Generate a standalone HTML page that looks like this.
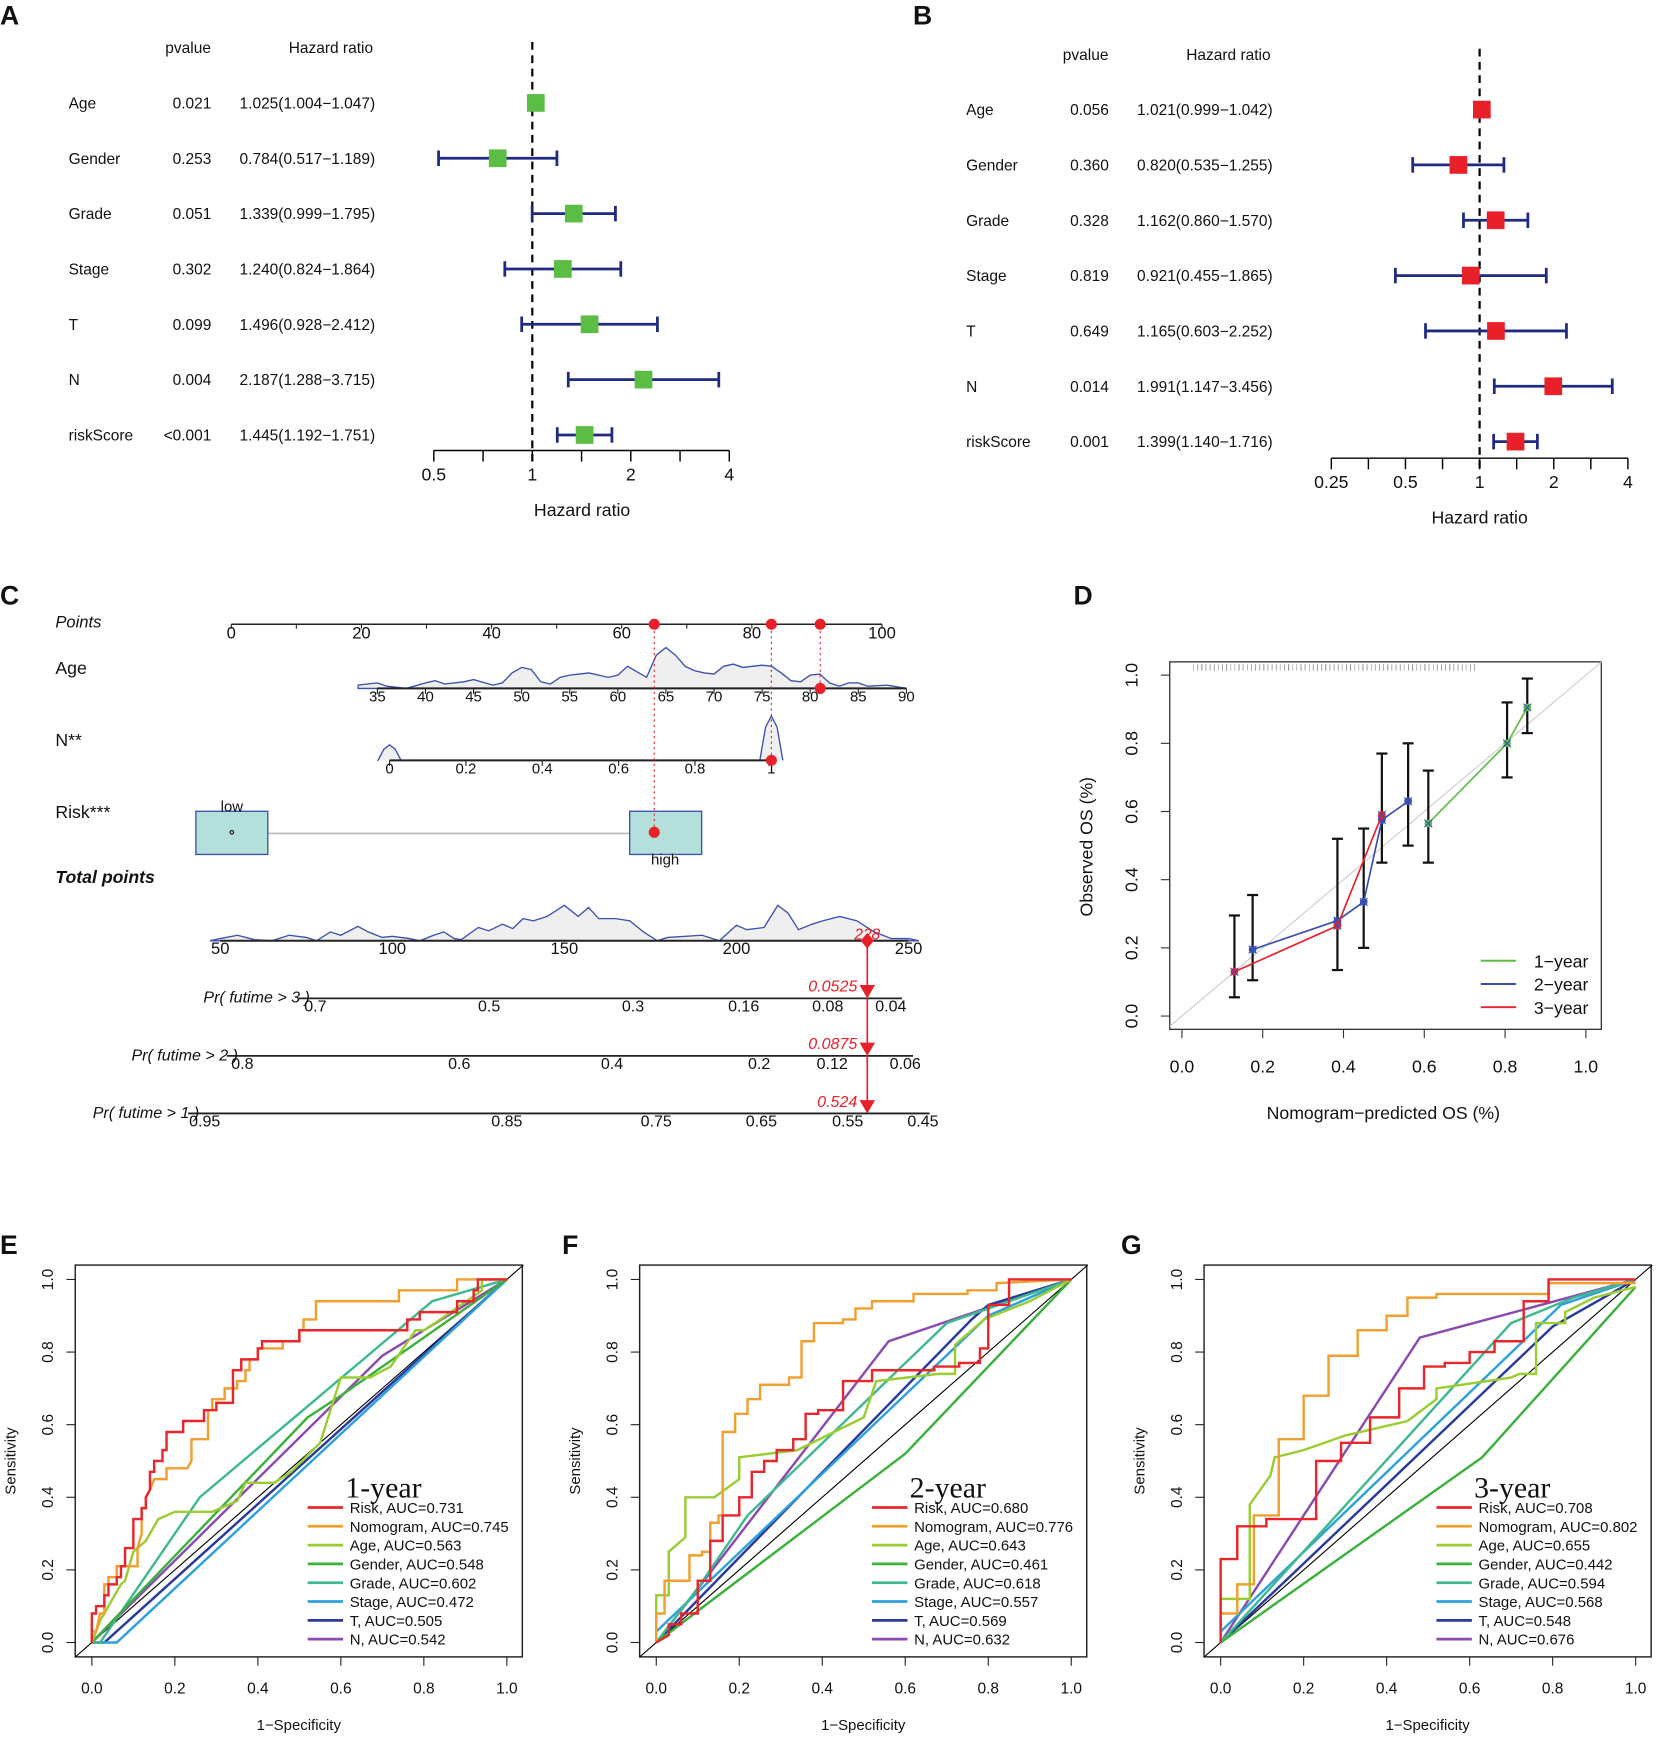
<!DOCTYPE html>
<html><head><meta charset="utf-8"><style>
html,body{margin:0;padding:0;background:#fff;}
svg{display:block;font-family:"Liberation Sans",Arial,sans-serif;}
</style></head><body>
<svg id="fig" width="1660" height="1741" viewBox="0 0 1500 1573" preserveAspectRatio="none" xmlns="http://www.w3.org/2000/svg"></svg>
<script>
// ---------- DATA ----------
const forestNames = ["Age","Gender","Grade","Stage","T","N","riskScore"];
const forestAP = ["0.021","0.253","0.051","0.302","0.099","0.004","<0.001"];
const forestAHR = [1.025,0.784,1.339,1.240,1.496,2.187,1.445];
const forestALo = [1.004,0.517,0.999,0.824,0.928,1.288,1.192];
const forestAHi = [1.047,1.189,1.795,1.864,2.412,3.715,1.751];
const forestATicks = [0.5,1,2,4];
const forestBP = ["0.056","0.360","0.328","0.819","0.649","0.014","0.001"];
const forestBHR = [1.021,0.820,1.162,0.921,1.165,1.991,1.399];
const forestBLo = [0.999,0.535,0.860,0.455,0.603,1.147,1.140];
const forestBHi = [1.042,1.255,1.570,1.865,2.252,3.456,1.716];
const forestBTicks = [0.25,0.5,1,2,4];

const pointsTicks = [0,20,40,60,80,100];
const pointsDots = [65,83,90.5];
const ageTicks = [35,40,45,50,55,60,65,70,75,80,85,90];
const ageDensAge = [33,35,36,38,40,41,42,44,45,47,48,49,50,51,52,53,54,55,56,57,58,59,60,61,62,63,64,65,66,67,68,69,70,71,72,73,74,75,76,77,78,79,80,81,82,83,84,85,86,88,90];
const ageDensH = [3,5,2,0,5,7,4,6,8,3,5,14,19,17,6,4,10,12,13,14,12,10,12,20,15,10,30,37,30,20,16,14,13,20,22,19,20,21,20,14,7,6,12,13,5,2,5,5,2,3,0];
const nTicks = [0,0.2,0.4,0.6,0.8,1];
const nDensX = [-0.03,-0.015,0,0.015,0.03,0.97,0.985,1,1.015,1.03];
const nDensH = [0,10,14,10,0,0,30,40,30,0];
const totalTicks = [50,100,150,200,250];
const totalDensX = [47,50,55,60,65,70,75,78,82,85,90,93,97,100,105,108,112,115,118,120,125,128,132,135,138,141,145,150,154,157,160,165,169,173,177,180,190,195,200,203,208,212,215,218,222,225,230,235,240,245,250,253];
const totalDensH = [0,2,5,1,0,5,3,0,8,5,13,8,3,4,2,0,5,8,2,1,12,9,15,11,20,18,22,32,22,30,20,20,18,8,0,3,5,0,14,10,12,32,25,10,15,18,22,18,8,2,2,0];
const totalScore = "228";
const totalMarkPos = 238;
const pr3Labels = ["0.7","0.5","0.3","0.16","0.08","0.04"];
const pr3Pos = [285,442,572,672,748,805];
const pr2Labels = ["0.8","0.6","0.4","0.2","0.12","0.06"];
const pr2Pos = [219,415,553,686,752,818];
const pr1Labels = ["0.95","0.85","0.75","0.65","0.55","0.45"];
const pr1Pos = [185,458,593,688,766,834];
const prValues = ["0.0525","0.0875","0.524"];

const calTicks = [0,0.2,0.4,0.6,0.8,1.0];
const cal1X = [0.61,0.805,0.855], cal1Y = [0.565,0.80,0.905];
const cal2X = [0.175,0.385,0.45,0.495,0.56], cal2Y = [0.195,0.28,0.335,0.575,0.63];
const cal3X = [0.13,0.385,0.495], cal3Y = [0.13,0.265,0.59];
const errX = [0.13,0.175,0.385,0.45,0.495,0.56,0.61,0.805,0.855];
const errLo = [0.055,0.105,0.135,0.20,0.45,0.50,0.45,0.70,0.83];
const errHi = [0.295,0.355,0.52,0.55,0.77,0.80,0.72,0.92,0.99];

const rocNames = ["Risk","Nomogram","Age","Gender","Grade","Stage","T","N"];
const rocAUC1 = ["0.731","0.745","0.563","0.548","0.602","0.472","0.505","0.542"];
const rocAUC2 = ["0.680","0.776","0.643","0.461","0.618","0.557","0.569","0.632"];
const rocAUC3 = ["0.708","0.802","0.655","0.442","0.594","0.568","0.548","0.676"];
const rocTicks = [0,0.2,0.4,0.6,0.8,1.0];
const roc1 = [
 [0,0,0,0.08,0.01,0.08,0.01,0.1,0.03,0.1,0.03,0.13,0.04,0.13,0.04,0.16,0.06,0.16,0.06,0.18,0.07,0.18,0.07,0.21,0.08,0.21,0.08,0.26,0.1,0.26,0.1,0.34,0.12,0.34,0.12,0.37,0.13,0.37,0.13,0.4,0.14,0.42,0.14,0.47,0.15,0.47,0.15,0.5,0.17,0.5,0.17,0.53,0.18,0.53,0.18,0.58,0.22,0.58,0.22,0.61,0.27,0.61,0.27,0.64,0.3,0.64,0.3,0.66,0.34,0.66,0.34,0.75,0.36,0.75,0.36,0.78,0.4,0.78,0.4,0.81,0.41,0.81,0.41,0.83,0.5,0.83,0.5,0.86,0.76,0.86,0.76,0.89,0.79,0.89,0.79,0.91,0.88,0.91,0.88,0.94,0.92,0.94,0.92,0.97,0.93,0.97,0.93,1,1,1],
 [0,0,0,0.03,0.01,0.03,0.02,0.08,0.03,0.08,0.03,0.16,0.04,0.16,0.04,0.18,0.06,0.18,0.06,0.21,0.11,0.21,0.11,0.26,0.12,0.3,0.12,0.37,0.13,0.37,0.13,0.4,0.14,0.42,0.15,0.45,0.18,0.45,0.18,0.48,0.23,0.48,0.24,0.5,0.24,0.56,0.28,0.56,0.28,0.64,0.29,0.64,0.29,0.67,0.32,0.67,0.32,0.7,0.35,0.7,0.35,0.72,0.37,0.72,0.37,0.75,0.38,0.75,0.38,0.78,0.4,0.78,0.4,0.81,0.46,0.81,0.46,0.83,0.5,0.83,0.5,0.86,0.51,0.86,0.51,0.89,0.54,0.89,0.54,0.94,0.74,0.94,0.74,0.97,0.88,0.97,0.88,1,1,1],
 [0,0,0.02,0.06,0.04,0.1,0.07,0.16,0.08,0.17,0.1,0.25,0.13,0.28,0.16,0.34,0.2,0.36,0.29,0.36,0.35,0.39,0.37,0.44,0.44,0.44,0.48,0.47,0.55,0.55,0.6,0.73,0.67,0.73,0.72,0.76,0.75,0.81,0.78,0.86,0.8,0.86,0.84,0.89,0.94,0.97,0.94,1,1,1],
 [0,0,0.52,0.62,0.6,0.68,1,1],
 [0,0,0.02,0,0.26,0.4,0.82,0.94,1,1],
 [0,0,0.06,0,1,1],
 [0,0,0.03,0,1,1],
 [0,0,0.7,0.79,1,1]];
const roc2 = [
 [0,0,0.03,0.02,0.03,0.05,0.06,0.05,0.06,0.08,0.1,0.08,0.1,0.17,0.13,0.17,0.13,0.28,0.16,0.28,0.16,0.35,0.2,0.35,0.2,0.4,0.23,0.4,0.23,0.47,0.26,0.47,0.26,0.5,0.29,0.5,0.29,0.53,0.33,0.53,0.33,0.56,0.36,0.56,0.36,0.63,0.39,0.63,0.39,0.64,0.45,0.64,0.45,0.72,0.52,0.72,0.52,0.75,0.67,0.75,0.67,0.76,0.73,0.76,0.73,0.77,0.78,0.77,0.78,0.81,0.8,0.81,0.8,0.93,0.85,0.93,0.85,1,1,1],
 [0,0,0,0.08,0.02,0.08,0.02,0.17,0.08,0.17,0.08,0.24,0.11,0.24,0.11,0.25,0.13,0.25,0.13,0.33,0.15,0.33,0.15,0.35,0.16,0.35,0.16,0.58,0.19,0.58,0.19,0.63,0.22,0.63,0.22,0.67,0.25,0.67,0.25,0.71,0.32,0.71,0.32,0.73,0.35,0.73,0.35,0.83,0.38,0.83,0.38,0.88,0.45,0.88,0.45,0.89,0.48,0.89,0.48,0.92,0.52,0.92,0.52,0.94,0.62,0.94,0.62,0.96,0.75,0.96,0.75,0.97,0.82,0.97,0.82,0.99,1,1],
 [0,0,0,0.13,0.03,0.13,0.03,0.25,0.07,0.29,0.07,0.4,0.14,0.4,0.2,0.45,0.2,0.51,0.34,0.53,0.5,0.62,0.53,0.72,0.68,0.74,0.72,0.74,0.72,0.82,0.79,0.89,0.9,0.94,1,1],
 [0,0,0.6,0.52,1,1],
 [0,0,0.1,0.15,0.22,0.35,0.7,0.88,1,1],
 [0,0.03,0.8,0.9,1,1],
 [0,0,0.76,0.89,0.8,0.93,1,1],
 [0,0,0.56,0.83,1,1]];
const roc3 = [
 [0,0,0,0.23,0.04,0.23,0.04,0.32,0.11,0.32,0.11,0.34,0.23,0.34,0.23,0.5,0.29,0.5,0.29,0.55,0.36,0.55,0.36,0.62,0.43,0.62,0.43,0.7,0.49,0.7,0.49,0.76,0.54,0.76,0.54,0.77,0.6,0.77,0.6,0.8,0.66,0.8,0.66,0.83,0.73,0.83,0.73,0.94,0.79,0.94,0.79,1,1,1],
 [0,0,0,0.08,0.04,0.08,0.04,0.16,0.08,0.16,0.08,0.35,0.14,0.35,0.14,0.56,0.2,0.56,0.2,0.68,0.26,0.68,0.26,0.79,0.33,0.79,0.33,0.86,0.4,0.86,0.4,0.9,0.45,0.9,0.45,0.95,0.52,0.95,0.52,0.96,0.79,0.96,0.79,0.99,1,0.99],
 [0,0,0,0.12,0.07,0.12,0.07,0.38,0.12,0.46,0.13,0.51,0.2,0.53,0.3,0.57,0.45,0.61,0.52,0.67,0.52,0.7,0.7,0.73,0.72,0.74,0.76,0.74,0.76,0.88,0.83,0.88,0.83,0.91,0.9,0.95,1,0.98],
 [0,0,0.63,0.51,1,0.98],
 [0,0,0.08,0.1,0.7,0.88,0.85,0.95,1,1],
 [0,0.03,0.82,0.93,1,1],
 [0,0,0.8,0.87,1,1],
 [0,0,0.48,0.84,1,1]];
const rocColors = ["#e8262b","#f0a030","#9acd32","#3cb03c","#40b890","#2ea0dc","#2a3a9a","#8a4ab0"];

// ---------- HELPERS ----------
const NS = "http://www.w3.org/2000/svg";
const svg = document.getElementById("fig");
function mk(tag, name, attrs, parent, txt){
  const el = document.createElementNS(NS, tag);
  
  
  for (const k in attrs) el.setAttribute(k, attrs[k]);
  if (txt !== undefined) el.textContent = txt;
  (parent || svg).appendChild(el);
  return el;
}
function grp(name){ return mk("g", name, {}); }
function line(p,name,x1,y1,x2,y2,st,w,dash){ const a={x1,y1,x2,y2,stroke:st,"stroke-width":w||1}; if(dash)a["stroke-dasharray"]=dash; return mk("line",name,a,p); }
function text(p,name,x,y,s,size,anchor,extra){ const a={x,y,"font-size":size||14,"text-anchor":anchor||"start",fill:"#111"}; for(const k in (extra||{}))a[k]=extra[k]; return mk("text",name,a,p,s); }

// panel letters
[["A",0,22],["B",825,22],["C",0,546],["D",970,546],["E",0,1133],["F",508,1133],["G",1013,1133]].forEach(l=>{
  text(svg,"panel-label-"+l[0].toLowerCase(),l[1],l[2],l[0],24,"start",{"font-weight":"bold"});
});

// ---------- FOREST ----------
function forest(id, cx, ppd, ticks, P, HR, LO, HI, y0, axY, colNameX, pR, hrR, headY, col){
  const g = grp("forest-plot-"+id);
  const fx = v => cx + ppd*Math.log2(v);
  text(g,"pvalue-header",pR-21,headY,"pvalue",14,"middle");
  text(g,"hazard-ratio-header",hrR-40,headY,"Hazard ratio",14,"middle");
  line(g,"reference-line",cx,headY-10,cx,axY+13,"#000",2,"7,5");
  forestNames.forEach((n,i)=>{
    const y = y0 + i*50;
    text(g,"row-label-"+n,colNameX,y+5,n,14);
    text(g,"pvalue-"+n,pR,y+5,P[i],14,"end");
    text(g,"hr-text-"+n,hrR,y+5,HR[i].toFixed(3)+"("+LO[i].toFixed(3)+"\u2212"+HI[i].toFixed(3)+")",14,"end");
    line(g,"ci-bar-"+n,fx(LO[i]),y,fx(HI[i]),y,"#1f2a80",2.5);
    line(g,"ci-cap-low-"+n,fx(LO[i]),y-7,fx(LO[i]),y+7,"#1f2a80",2.5);
    line(g,"ci-cap-high-"+n,fx(HI[i]),y-7,fx(HI[i]),y+7,"#1f2a80",2.5);
    mk("rect","hr-marker-"+n,{x:fx(HR[i])-8,y:y-8,width:16,height:16,fill:col},g);
  });
  const a0=fx(ticks[0]), a1=fx(ticks[ticks.length-1]);
  line(g,"x-axis-line",a0,axY,a1,axY,"#000",1.3);
  for(let i=0;i<ticks.length;i++){
    line(g,"x-tick",fx(ticks[i]),axY,fx(ticks[i]),axY+10,"#000",1.3);
    text(g,"x-tick-label",fx(ticks[i]),axY+27,String(ticks[i]),16,"middle");
    if(i<ticks.length-1){ const m=fx(Math.sqrt(ticks[i]*ticks[i+1])); line(g,"x-minor-tick",m,axY,m,axY+10,"#000",1.3); }
  }
  text(g,"x-axis-title",cx+(id==="a"?45:0),axY+59,"Hazard ratio",16,"middle");
}
forest("a",481,89,forestATicks,forestAP,forestAHR,forestALo,forestAHi,93,407,62,191,339,48,"#5cbd45");
forest("b",1337,67,forestBTicks,forestBP,forestBHR,forestBLo,forestBHi,99,414,873,1002,1150,54,"#e8202a");

// ---------- NOMOGRAM ----------
(function(){
  const g = grp("nomogram");
  const px = v => 209 + 5.88*v;
  const ax = v => 341 + (v-35)*(478/55);
  const nx = v => 352 + v*345;
  const tx = v => 199 + (v-50)*3.11;
  const it = {"font-style":"italic"};
  text(g,"points-label",50,567,"Points",15,"start",it);
  text(g,"age-label",50,609,"Age",16);
  text(g,"n-label",50,674,"N**",16);
  text(g,"risk-label",50,739,"Risk***",16);
  text(g,"total-points-label",50,798,"Total points",16,"start",{"font-style":"italic","font-weight":"bold"});
  // points axis
  line(g,"points-axis",px(0),564,px(100),564,"#222",1.3);
  for(let v=0;v<=100;v+=10) line(g,"points-tick",px(v),564,px(v),568,"#222",1);
  pointsTicks.forEach(v=>text(g,"points-tick-label",px(v),577,String(v),15,"middle"));
  // age density
  let d="M"+ax(ageDensAge[0])+",622";
  ageDensAge.forEach((a,i)=>{ d+=" L"+ax(a).toFixed(1)+","+(622-ageDensH[i]); });
  d+=" L"+ax(ageDensAge[ageDensAge.length-1])+",622 Z";
  mk("path","age-density",{d,fill:"#efefef",stroke:"#3a4fb0","stroke-width":1.2},g);
  line(g,"age-axis",ax(35),622,ax(90),622,"#222",1.8);
  ageTicks.forEach(v=>{ line(g,"age-tick",ax(v),622,ax(v),627,"#222",1); text(g,"age-tick-label",ax(v),634,String(v),13.5,"middle"); });
  // N density
  let dn="M"+nx(nDensX[0])+",687";
  nDensX.forEach((a,i)=>{ dn+=" L"+nx(a).toFixed(1)+","+(687-nDensH[i]); if(i===4) dn+=" L"+nx(0.97)+",687"; });
  mk("path","n-density",{d:dn,fill:"#efefef",stroke:"#3a4fb0","stroke-width":1.2},g);
  line(g,"n-axis",nx(0),687,nx(1),687,"#222",1.8);
  nTicks.forEach(v=>{ line(g,"n-tick",nx(v),687,nx(v),692,"#222",1); text(g,"n-tick-label",nx(v),699,String(v),13.5,"middle"); });
  // risk
  line(g,"risk-connector",242,753,569,753,"#bbb",1.5);
  mk("rect","risk-box-low",{x:177,y:733,width:65,height:39,fill:"#b3e0da",stroke:"#3a4fb0","stroke-width":1.2},g);
  mk("rect","risk-box-high",{x:569,y:733,width:65,height:39,fill:"#b3e0da",stroke:"#3a4fb0","stroke-width":1.2},g);
  mk("circle","risk-low-point",{cx:209.5,cy:752,r:1.6,fill:"none",stroke:"#111"},g);
  text(g,"risk-low-label",209.5,733,"low",13.5,"middle");
  text(g,"risk-high-label",601,781,"high",13.5,"middle");
  // total density
  let dt="M"+tx(totalDensX[0])+",850";
  totalDensX.forEach((a,i)=>{ dt+=" L"+tx(a).toFixed(1)+","+(850-totalDensH[i]); });
  dt+=" Z";
  mk("path","total-points-density",{d:dt,fill:"#efefef",stroke:"#3a4fb0","stroke-width":1.2},g);
  line(g,"total-points-axis",tx(50),850,tx(250),850,"#222",1.8);
  totalTicks.forEach(v=>text(g,"total-tick-label",tx(v),862,String(v),15,"middle"));
  // probability axes
  const prs=[[902,270,815,pr3Labels,pr3Pos,"Pr( futime > 3 )",280],[954,205,825,pr2Labels,pr2Pos,"Pr( futime > 2 )",215],[1006,170,840,pr1Labels,pr1Pos,"Pr( futime > 1 )",180]];
  prs.forEach((p,k)=>{
    line(g,"prob-axis-"+(3-k),p[1],p[0],p[2],p[0],"#222",1.6);
    text(g,"prob-axis-label-"+(3-k),p[6],p[0]+4,p[5],14.5,"end",it);
    p[3].forEach((l,i)=>text(g,"prob-tick-label",p[4][i],p[0]+12,l,14.5,"middle"));
  });
  // red annotations
  const tmx = tx(totalMarkPos);
  line(g,"dotted-guide-age",px(pointsDots[0]),570,px(pointsDots[0]),752,"#e8202a",1,"2,3");
  line(g,"dotted-guide-n",px(pointsDots[1]),570,px(pointsDots[1]),687,"#e8202a",1,"2,3");
  line(g,"dotted-guide-risk",px(pointsDots[2]),570,px(pointsDots[2]),622,"#e8202a",1,"2,3");
  pointsDots.forEach(v=>mk("circle","points-marker",{cx:px(v),cy:564,r:5,fill:"#e8202a"},g));
  mk("circle","age-marker",{cx:px(pointsDots[2]),cy:622,r:5,fill:"#e8202a"},g);
  mk("circle","n-marker",{cx:px(pointsDots[1]),cy:687,r:5,fill:"#e8202a"},g);
  mk("circle","risk-marker",{cx:px(pointsDots[0]),cy:752,r:5,fill:"#e8202a"},g);
  mk("path","total-marker",{d:`M${tmx},843 L${tmx+6},850 L${tmx},857 L${tmx-6},850 Z`,fill:"#e8202a"},g);
  text(g,"total-score-label",tmx,849,totalScore,14,"middle",{fill:"#e8202a","font-style":"italic"});
  line(g,"prediction-arrow",tmx,850,tmx,1004,"#e8202a",1.5);
  [902,954,1006].forEach((y,i)=>{
    mk("path","prob-arrowhead",{d:`M${tmx-7},${y-12} L${tmx+7},${y-12} L${tmx},${y} Z`,fill:"#e8202a"},g);
    text(g,"prob-value-label",tmx-9,y-6,prValues[i],14.5,"end",{fill:"#e8202a","font-style":"italic"});
  });
})();

// ---------- CALIBRATION ----------
(function(){
  const g = grp("calibration-plot");
  const cx = v => 1068 + 365*v, cy = v => 918 - 308*v;
  mk("rect","plot-frame",{x:1057,y:598,width:390,height:332,fill:"none",stroke:"#333","stroke-width":1.2},g);
  line(g,"ideal-diagonal",cx(-0.03),cy(-0.03),cx(1.04),cy(1.04),"#ccc",1);
  // rug
  let rd="";
  for(let k=0;k<160;k++){ const x=1075+k*1.6+((k*37)%7); if(((k*13)%5)!==0) rd+=`M${x.toFixed(1)},600 V606 `; }
  mk("path","prediction-rug",{d:rd,stroke:"#999","stroke-width":0.6},g);
  calTicks.forEach(v=>{
    line(g,"x-tick",cx(v),930,cx(v),938,"#333",1);
    text(g,"x-tick-label",cx(v),969,v.toFixed(1),16,"middle");
    line(g,"y-tick",1049,cy(v),1057,cy(v),"#333",1);
    text(g,"y-tick-label",1028,cy(v),v.toFixed(1),16,"middle",{transform:`rotate(-90 1028 ${cy(v)})`});
  });
  text(g,"x-axis-title",1250,1011,"Nomogram\u2212predicted OS (%)",16,"middle");
  text(g,"y-axis-title",987,765,"Observed OS (%)",16,"middle",{transform:"rotate(-90 987 765)"});
  errX.forEach((x,i)=>{
    line(g,"error-bar",cx(x),cy(errLo[i]),cx(x),cy(errHi[i]),"#111",2);
    line(g,"error-cap",cx(x)-5,cy(errLo[i]),cx(x)+5,cy(errLo[i]),"#111",2);
    line(g,"error-cap",cx(x)-5,cy(errHi[i]),cx(x)+5,cy(errHi[i]),"#111",2);
  });
  [[cal1X,cal1Y,"#5cbd45","1-year"],[cal2X,cal2Y,"#3a4fb0","2-year"],[cal3X,cal3Y,"#e8202a","3-year"]].forEach(s=>{
    mk("polyline","calibration-line-"+s[3],{points:s[0].map((x,i)=>cx(x)+","+cy(s[1][i])).join(" "),fill:"none",stroke:s[2],"stroke-width":1.5},g);
    s[0].forEach((x,i)=>{
      mk("circle","calibration-point-"+s[3],{cx:cx(x),cy:cy(s[1][i]),r:3.5,fill:s[2]},g);
      mk("path","bias-corrected-mark",{d:`M${cx(x)-3.5},${cy(s[1][i])-3.5} l7,7 M${cx(x)+3.5},${cy(s[1][i])-3.5} l-7,7`,stroke:"#3a4fb0","stroke-width":1},g);
    });
  });
  [["1-year","#5cbd45"],["2-year","#3a4fb0"],["3-year","#e8202a"]].forEach((l,i)=>{
    line(g,"legend-swatch-"+l[0],1338,868+i*21,1370,868+i*21,l[1],1.8);
    text(g,"legend-label-"+l[0],1386,874+i*21,l[0].replace("-","\u2212"),16);
  });
})();

// ---------- ROC ----------
function roc(id, off, curves, aucs, title){
  const g = grp("roc-plot-"+id);
  const sx = v => 83 + off + 375*v, sy = v => 1484 - 328*v;
  mk("rect","plot-frame",{x:68+off,y:1143,width:404,height:354,fill:"none",stroke:"#222","stroke-width":1.3},g);
  rocTicks.forEach(v=>{
    line(g,"x-tick",sx(v),1497,sx(v),1505,"#222",1);
    text(g,"x-tick-label",sx(v),1530,v.toFixed(1),14,"middle");
    line(g,"y-tick",60+off,sy(v),68+off,sy(v),"#222",1);
    text(g,"y-tick-label",48+off,sy(v),v.toFixed(1),14,"middle",{transform:`rotate(-90 ${48+off} ${sy(v)})`});
  });
  text(g,"x-axis-title",270+off,1563,"1\u2212Specificity",13.5,"middle");
  text(g,"y-axis-title",14+off,1320,"Sensitivity",13.5,"middle",{transform:`rotate(-90 ${14+off} 1320)`});
  line(g,"chance-diagonal",sx(-0.04),sy(-0.04),sx(1.04),sy(1.04),"#000",1);
  for(let k=curves.length-1;k>=0;k--){
    const c=curves[k]; let pts=[];
    for(let i=0;i<c.length;i+=2) pts.push(sx(c[i]).toFixed(1)+","+sy(c[i+1]).toFixed(1));
    mk("polyline","roc-curve-"+rocNames[k],{points:pts.join(" "),fill:"none",stroke:rocColors[k],"stroke-width":2.2},g);
  }
  text(g,"roc-title",312+off,1353,title,27,"start",{"font-family":"'Liberation Serif',serif"});
  rocNames.forEach((n,i)=>{
    const y=1362+i*17;
    line(g,"legend-swatch-"+n,278+off,y,310+off,y,rocColors[i],2.5);
    text(g,"legend-label-"+n,316+off,y+5,n+", AUC="+aucs[i],13.5);
  });
}
roc("e",0,roc1,rocAUC1,"1-year");
roc("f",510,roc2,rocAUC2,"2-year");
roc("g",1020,roc3,rocAUC3,"3-year");
</script>
</body></html>
